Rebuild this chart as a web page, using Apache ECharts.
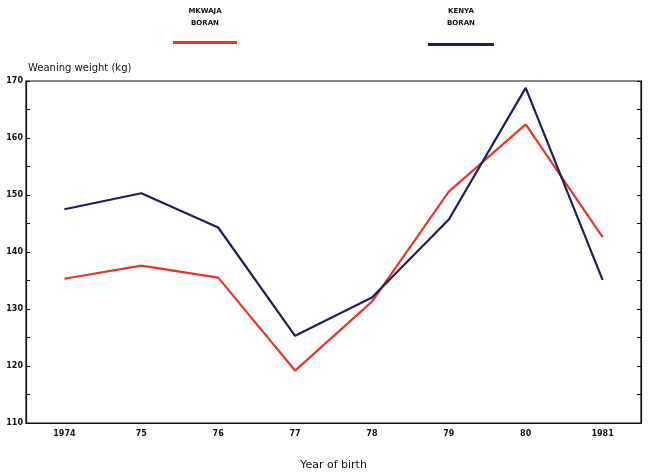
<!DOCTYPE html>
<html>
<head>
<meta charset="utf-8">
<script src="https://cdn.jsdelivr.net/npm/echarts@6/dist/echarts.min.js"></script>
<style>html,body{margin:0;padding:0;background:#fff}#c{width:650px;height:476px}</style>
</head>
<body>
<div id="c"></div>
<script>
var years = ['1974', '75', '76', '77', '78', '79', '80', '1981'];
var mkwajaBoran = [135.3, 137.6, 135.5, 119.2, 131.3, 150.6, 162.4, 142.6];
var kenyaBoran = [147.5, 150.3, 144.3, 125.3, 132.0, 145.7, 168.8, 135.1];
var yMin = 110, yMax = 170, yStep = 10;

var FONT = 'DejaVu Sans';
var chart = echarts.init(document.getElementById('c'), null, {renderer: 'canvas'});
chart.setOption({
  backgroundColor: '#fff',
  animation: false,
  textStyle: {fontFamily: FONT},
  grid: {left: 26, right: 9, top: 81, bottom: 49, show: true, borderColor: '#111', borderWidth: 1.2, containLabel: false},
  legend: [
    {data: ['MKWAJA BORAN'], left: 173, top: 41, padding: 0, icon: 'rect', itemWidth: 64, itemHeight: 3, formatter: function(){return '';}, selectedMode: false},
    {data: ['KENYA BORAN'], left: 428, top: 43, padding: 0, icon: 'rect', itemWidth: 66, itemHeight: 3, formatter: function(){return '';}, selectedMode: false}
  ],
  graphic: [
    {type: 'text', x: 205, y: 5, style: {text: 'MKWAJA\nBORAN', fontFamily: FONT, fontSize: 7, fontWeight: 'bold', fill: '#111', align: 'center', verticalAlign: 'top', lineHeight: 12}},
    {type: 'text', x: 461, y: 5, style: {text: 'KENYA\nBORAN', fontFamily: FONT, fontSize: 7, fontWeight: 'bold', fill: '#111', align: 'center', verticalAlign: 'top', lineHeight: 12}}
  ],
  xAxis: {
    type: 'category', data: years, boundaryGap: true,
    name: 'Year of birth', nameLocation: 'middle', nameGap: 37,
    nameTextStyle: {fontFamily: FONT, fontSize: 11, color: '#111'},
    axisLine: {lineStyle: {color: '#111', width: 1.2}},
    axisTick: {inside: true, alignWithLabel: true, length: 6, lineStyle: {color: '#111'}},
    axisLabel: {fontFamily: FONT, fontSize: 8, fontWeight: 'bold', color: '#111', margin: 7},
    splitLine: {show: false}
  },
  yAxis: [
    {
      type: 'value', min: yMin, max: yMax, interval: yStep, position: 'left',
      name: 'Weaning weight (kg)', nameLocation: 'end', nameGap: 8,
      nameTextStyle: {fontFamily: FONT, fontSize: 10, color: '#111', align: 'left', padding: [0, 0, 0, 2]},
      axisLine: {show: true, lineStyle: {color: '#111', width: 1.2}},
      axisTick: {show: true, inside: true, length: 4, lineStyle: {color: '#111'}},
      minorTick: {show: true, splitNumber: 2, length: 4, lineStyle: {color: '#111'}},
      axisLabel: {fontFamily: FONT, fontSize: 8, fontWeight: 'bold', color: '#111', margin: 3},
      splitLine: {show: false}
    },
    {
      type: 'value', min: yMin, max: yMax, interval: yStep, position: 'right',
      axisLine: {show: true, lineStyle: {color: '#111', width: 1.2}},
      axisTick: {show: true, inside: true, length: 4, lineStyle: {color: '#111'}},
      minorTick: {show: true, splitNumber: 2, length: 4, lineStyle: {color: '#111'}},
      axisLabel: {show: false},
      splitLine: {show: false}
    }
  ],
  series: [
    {name: 'MKWAJA BORAN', type: 'line', data: mkwajaBoran, symbol: 'none', color: '#e8352b', lineStyle: {width: 2.2, color: '#e8352b'}},
    {name: 'KENYA BORAN', type: 'line', data: kenyaBoran, symbol: 'none', color: '#1b1f5c', lineStyle: {width: 2.2, color: '#1b1f5c'}}
  ]
});
</script>
</body>
</html>
